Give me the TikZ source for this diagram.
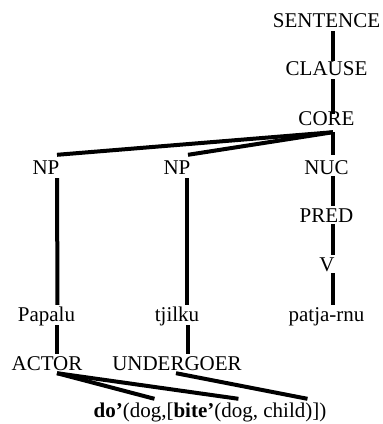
\documentclass[tikz,border=0pt]{standalone}
\usepackage{fontspec}
\setmainfont{Liberation Serif}
\usetikzlibrary{positioning,calc}

\begin{document}
\begin{tikzpicture}[
    x=1pt, y=-1pt,
    label/.style={inner sep=0pt, anchor=base, text height=14pt, text depth=4pt, font=\fontsize{21}{25}\selectfont},
    branch/.style={line width=4pt}
]
\useasboundingbox (0,0) rectangle (383,424);

% spine
\node (sentence) [label] at (326.5,27) {SENTENCE};
\node (clause) [label] at (326.5,75) {CLAUSE};
\node (core) [label] at (326.5,125) {CORE};
\node (np1) [label] at (46,174) {NP};
\node (np2) [label] at (177,174) {NP};
\node (nuc) [label] at (326.5,174) {NUC};
\node (pred) [label] at (326.5,222) {PRED};
\node (v) [label] at (327,271) {V};
\node (papalu) [label] at (46.5,321) {Papalu};
\node (tjilku) [label] at (177,321) {tjilku};
\node (patja) [label] at (326.5,321) {patja-rnu};
\node (actor) [label] at (47,370) {ACTOR};
\node (undergoer) [label] at (177,370) {UNDERGOER};
\node (lsr) [label] at (210,417) {\textbf{do’}(dog,[\textbf{bite’}(dog, child)])};

\draw [branch] ([xshift=6.5pt]sentence.south) -- ([xshift=6.5pt]clause.north);
\draw [branch] ([xshift=6.5pt]clause.south) -- ([xshift=6.5pt,yshift=-3pt]core.north);
\draw [branch] ([xshift=6.5pt,yshift=-3pt]core.south) -- ([xshift=11pt,yshift=5pt]np1.north);
\draw [branch] ([xshift=6.5pt,yshift=-3pt]core.south) -- ([xshift=11pt,yshift=5pt]np2.north);
\draw [branch] ([xshift=6.5pt,yshift=-3pt]core.south) -- ([xshift=6.5pt,yshift=5pt]nuc.north);
\draw [branch] ([xshift=11pt]np1.south) -- ([xshift=11pt,yshift=2pt]papalu.north);
\draw [branch] ([xshift=10pt]np2.south) -- ([xshift=10pt,yshift=2pt]tjilku.north);
\draw [branch] ([xshift=6.5pt,yshift=2pt]nuc.south) -- ([xshift=6.5pt,yshift=2pt]pred.north);
\draw [branch] ([xshift=6.5pt,yshift=2pt]pred.south) -- ([xshift=6pt,yshift=2pt]v.north);
\draw [branch] ([xshift=6pt,yshift=2pt]v.south) -- ([xshift=6.5pt,yshift=2pt]patja.north);
\draw [branch] ([xshift=10.5pt]papalu.south) -- ([xshift=10pt,yshift=2pt]actor.north);
\draw [branch] ([xshift=11pt]tjilku.south) -- ([xshift=11pt,yshift=2pt]undergoer.north);
\draw [branch] ([xshift=10pt,yshift=1pt]actor.south) -- ($(lsr.north west)+(61,-4)$);
\draw [branch] ([xshift=10pt,yshift=1pt]actor.south) -- ($(lsr.north west)+(145,-4)$);
\draw [branch] ([xshift=-1pt,yshift=1pt]undergoer.south) -- ($(lsr.north west)+(214,-4)$);
\end{tikzpicture}
\end{document}
